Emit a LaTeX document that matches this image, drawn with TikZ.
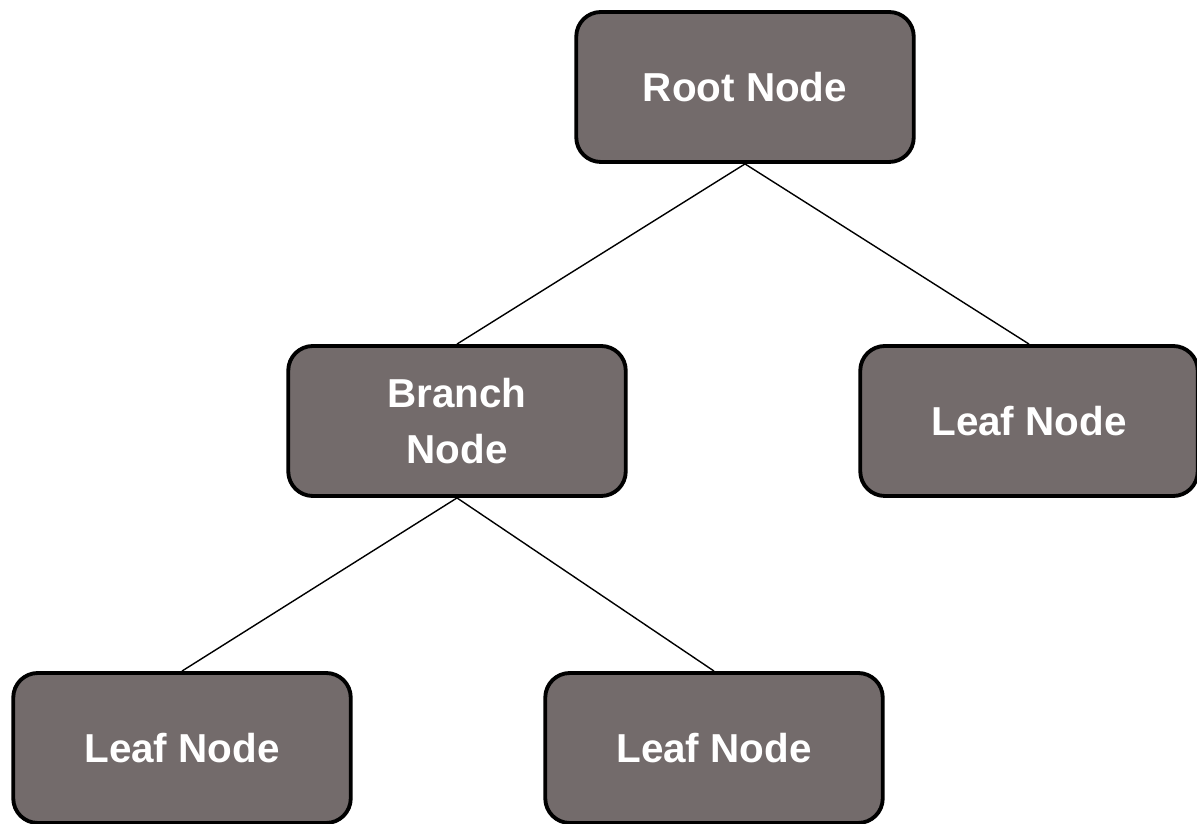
\documentclass[tikz,border=0pt]{standalone}
\usepackage{fontspec}
\setmainfont{Liberation Sans}
\usetikzlibrary{positioning}

\definecolor{nodegray}{RGB}{115,107,107}

\begin{document}
\begin{tikzpicture}[
  block/.style={
    draw=black,
    fill=nodegray,
    line width=2.2pt,
    rounded corners=14pt,
    minimum width=6.75cm,
    minimum height=3.0cm,
    align=center,
    text=white,
    font=\fontsize{23}{32}\selectfont\bfseries
  },
  link/.style={
    draw=black,
    line width=0.8pt
  }
]
\useasboundingbox (0,0) rectangle (23.94,16.46);

\node[block] (root)   at (14.90,14.72) {Root Node};
\node[block] (branch) at (9.14,8.04)   {Branch\\Node};
\node[block] (leafr)  at (20.58,8.04)  {Leaf Node};
\node[block] (leafl)  at (3.64,1.50)   {Leaf Node};
\node[block] (leafm)  at (14.28,1.50)  {Leaf Node};

\draw[link] (root.south)   -- (branch.north);
\draw[link] (root.south)   -- (leafr.north);
\draw[link] (branch.south) -- (leafl.north);
\draw[link] (branch.south) -- (leafm.north);

\end{tikzpicture}
\end{document}
